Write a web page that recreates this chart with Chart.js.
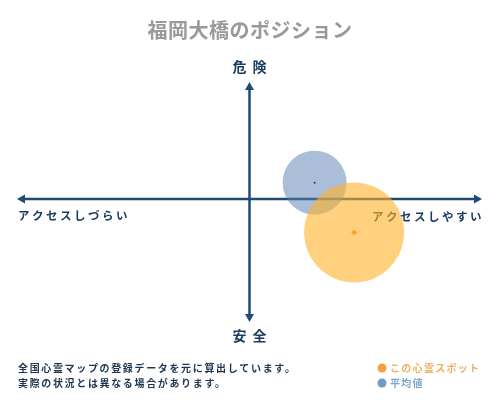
<!DOCTYPE html>
<html>
<head>
<meta charset="utf-8">
<script src="https://cdn.jsdelivr.net/npm/chart.js@4"></script>
<style>
  html, body { margin: 0; padding: 0; background: #fff; }
  #wrap { width: 500px; height: 400px; }
</style>
</head>
<body>
<div id="wrap"><canvas id="myChart" width="500" height="400"></canvas></div>
<script>
// data
const seriesNames = ['この心霊スポット', '平均値'];
const spotPoint = { x: 4.5, y: -2.85, r: 50 };
const avgPoint = { x: 2.8, y: 1.4, r: 32 };
const axisLabels = { top: '危険', bottom: '安全', left: 'アクセスしづらい', right: 'アクセスしやすい' };
const titleText = '福岡大橋のポジション';
const noteLines = ['全国心霊マップの登録データを元に算出しています。', '実際の状況とは異なる場合があります。'];

const FONT = '"Noto Sans CJK JP", "Noto Sans", sans-serif';
const NAVY = '#1e4a75';

function text(ctx, str, x, y, size, color, align, spacing){
    ctx.save();
    ctx.font = 'bold ' + size + 'px ' + FONT;
    ctx.fillStyle = color;
    ctx.textAlign = align;
    ctx.textBaseline = 'middle';
    ctx.letterSpacing = (spacing || 0) + 'px';
    ctx.fillText(str, x, y);
    ctx.restore();
}

const decorPlugin = {
    id: 'decor',
    beforeDatasetsDraw(chart){
        const ctx = chart.ctx;
        const area = chart.chartArea;
        const x0 = chart.scales.x.getPixelForValue(0);
        const y0 = chart.scales.y.getPixelForValue(0);
        ctx.save();
        ctx.strokeStyle = NAVY;
        ctx.fillStyle = NAVY;
        ctx.lineWidth = 2.5;
        ctx.beginPath();
        ctx.moveTo(area.left + 4, y0);
        ctx.lineTo(area.right - 4, y0);
        ctx.moveTo(x0, area.top + 4);
        ctx.lineTo(x0, area.bottom - 4);
        ctx.stroke();
        // arrow heads
        ctx.beginPath();
        ctx.moveTo(area.right, y0); ctx.lineTo(area.right - 8, y0 - 4.5); ctx.lineTo(area.right - 8, y0 + 4.5);
        ctx.moveTo(area.left, y0); ctx.lineTo(area.left + 8, y0 - 4.5); ctx.lineTo(area.left + 8, y0 + 4.5);
        ctx.moveTo(x0, area.top); ctx.lineTo(x0 - 4.5, area.top + 8); ctx.lineTo(x0 + 4.5, area.top + 8);
        ctx.moveTo(x0, area.bottom); ctx.lineTo(x0 - 4.5, area.bottom - 8); ctx.lineTo(x0 + 4.5, area.bottom - 8);
        ctx.fill();
        ctx.restore();

        text(ctx, axisLabels.top, x0 + 3, area.top - 15, 14, '#1b3d62', 'center', 6);
        text(ctx, axisLabels.bottom, x0 + 3, area.bottom + 14, 14, '#1b3d62', 'center', 6);
        text(ctx, axisLabels.left, area.left + 1, y0 + 17, 11.5, '#1b3d62', 'left', 2.5);
        text(ctx, axisLabels.right, area.right + 2, y0 + 18, 11.5, '#1b3d62', 'right', 2.5);
    },
    afterDraw(chart){
        const ctx = chart.ctx;
        text(ctx, titleText, 250, 30, 20, '#999999', 'center', 0.5);
        text(ctx, noteLines[0], 18, 368, 10, '#1e3550', 'left', 1.65);
        text(ctx, noteLines[1], 18, 383, 10, '#1e3550', 'left', 1.65);
        ctx.save();
        ctx.fillStyle = '#f0a040';
        ctx.beginPath(); ctx.arc(382, 368, 4.5, 0, Math.PI * 2); ctx.fill();
        ctx.fillStyle = '#6e9cc3';
        ctx.beginPath(); ctx.arc(382, 383, 4.5, 0, Math.PI * 2); ctx.fill();
        ctx.restore();
        text(ctx, seriesNames[0], 390, 368, 10, '#f0b060', 'left', 1.3);
        text(ctx, seriesNames[1], 390, 383, 10, '#7ea6c8', 'left', 1.3);
    }
};

const ctx = document.getElementById('myChart');
new Chart(ctx, {
    type: 'bubble',
    data: {
        datasets: [
            {
                label: seriesNames[1] + ' center',
                data: [{ x: avgPoint.x, y: avgPoint.y, r: 1 }],
                backgroundColor: '#1e3550',
                borderWidth: 0,
                order: 0
            },
            {
                label: seriesNames[0] + ' center',
                data: [{ x: spotPoint.x, y: spotPoint.y, r: 3 }],
                pointStyle: 'rectRot',
                backgroundColor: '#f5a623',
                borderWidth: 0,
                order: 1
            },
            {
                label: seriesNames[0],
                data: [spotPoint],
                backgroundColor: 'rgba(255, 178, 40, 0.6)',
                borderWidth: 0,
                order: 2
            },
            {
                label: seriesNames[1],
                data: [avgPoint],
                backgroundColor: 'rgba(85, 125, 175, 0.5)',
                borderWidth: 0,
                order: 3
            }
        ]
    },
    options: {
        responsive: false,
        animation: false,
        layout: { autoPadding: false, padding: { left: 17, right: 18, top: 82, bottom: 78 } },
        scales: {
            x: { display: false, min: -10, max: 10 },
            y: { display: false, min: -10.5, max: 10 }
        },
        plugins: {
            legend: { display: false },
            tooltip: { enabled: false }
        }
    },
    plugins: [decorPlugin]
});
</script>
</body>
</html>
